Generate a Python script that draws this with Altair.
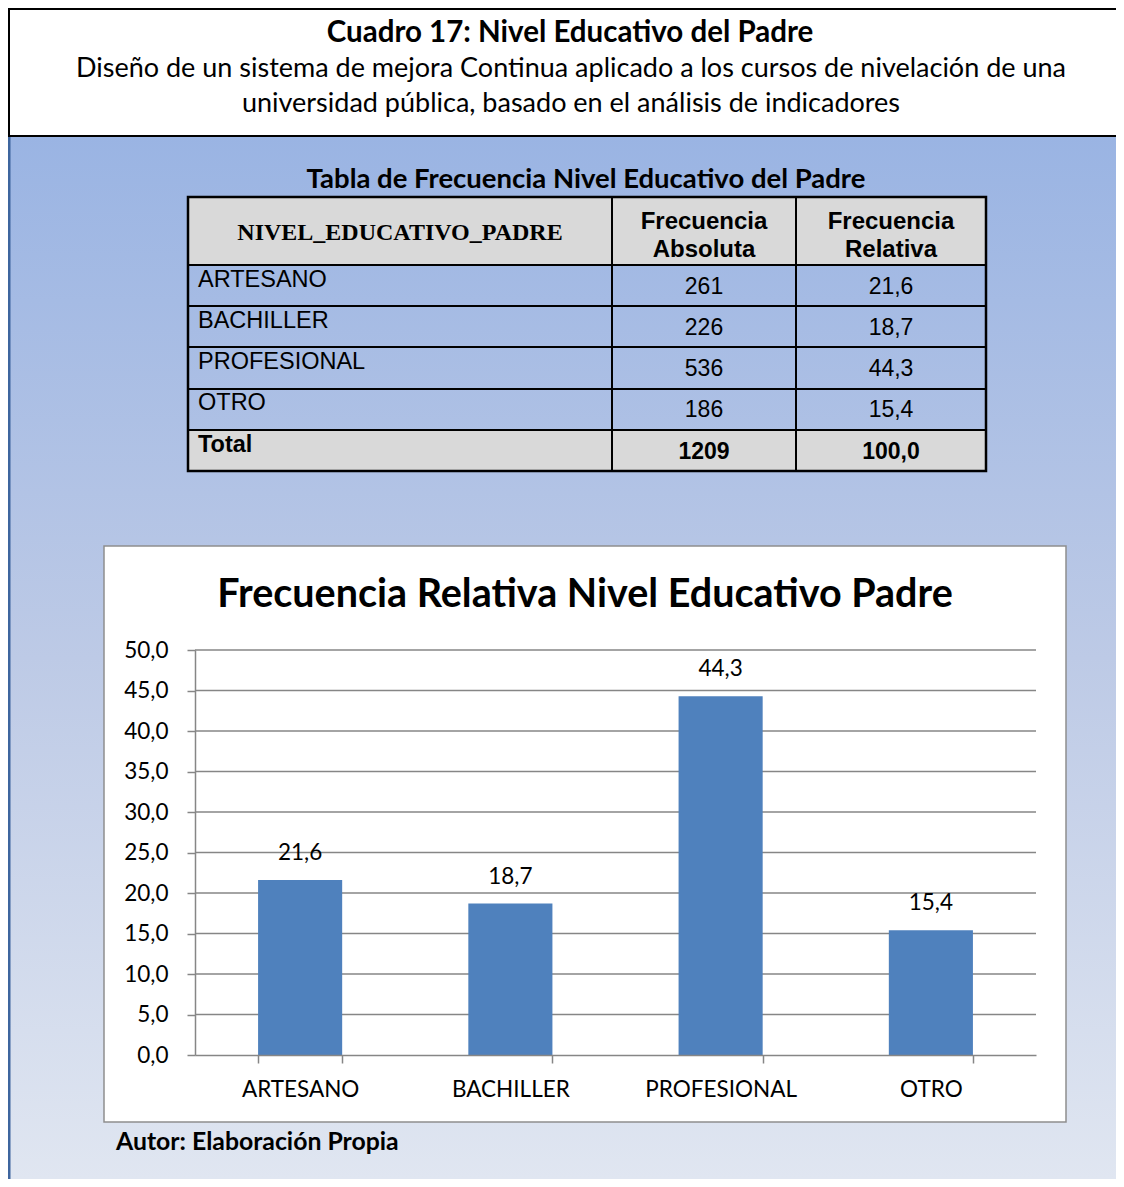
import altair as alt
import pandas as pd

# ---------------- data ----------------
categories = ["ARTESANO", "BACHILLER", "PROFESIONAL", "OTRO"]
freq_abs = [261, 226, 536, 186]
freq_rel = [21.6, 18.7, 44.3, 15.4]
total_label = "Total"
y_ticks = [0, 5, 10, 15, 20, 25, 30, 35, 40, 45, 50]

title_main = "Cuadro 17: Nivel Educativo del Padre"
subtitle_1 = "Diseño de un sistema de mejora Continua aplicado a los cursos de nivelación de una"
subtitle_2 = "universidad pública, basado en el análisis de indicadores"
table_title = "Tabla de Frecuencia Nivel Educativo del Padre"
head_col1 = "NIVEL_EDUCATIVO_PADRE"
head_col2 = "Frecuencia\nAbsoluta"
head_col3 = "Frecuencia\nRelativa"
chart_title = "Frecuencia Relativa Nivel Educativo Padre"
footer_text = "Autor: Elaboración Propia"

W, H = 1108, 1171


def fmt(v):
    return f"{v:.1f}".replace(".", ",")


bars_df = pd.DataFrame({"cat": categories, "rel": freq_rel})
rows = categories + [total_label]
table_df = pd.DataFrame({
    "label": rows,
    "abs": [str(v) for v in freq_abs] + [str(sum(freq_abs))],
    "rel": [fmt(v) for v in freq_rel] + [fmt(sum(freq_rel))],
    "total": [False] * len(categories) + [True],
})
grid_df = pd.DataFrame({"t": y_ticks[1:]})
one = pd.DataFrame({"k": [0]})

CAL = "Lato"
ARIAL = "Liberation Sans"
TIMES = "Liberation Serif"


def box(x, x2, y, y2, **kw):
    return alt.Chart(one).mark_rect(**kw).encode(
        x=alt.value(x), x2=alt.value(x2), y=alt.value(y), y2=alt.value(y2))


def txt(text, x, y, **kw):
    kw.setdefault("baseline", "middle")
    kw.setdefault("color", "black")
    return alt.Chart(one).mark_text(**kw).encode(
        x=alt.value(x), y=alt.value(y), text=alt.value(text))


def hline(y, x, x2, color="black", w=2):
    return alt.Chart(one).mark_rule(color=color, strokeWidth=w).encode(
        x=alt.value(x), x2=alt.value(x2), y=alt.value(y))


def vline(x, y, y2, color="black", w=2):
    return alt.Chart(one).mark_rule(color=color, strokeWidth=w).encode(
        x=alt.value(x), y=alt.value(y), y2=alt.value(y2))


gradient = alt.LinearGradient(
    gradient="linear", x1=0, y1=0, x2=0, y2=1,
    stops=[alt.GradientStop(color="#9AB4E3", offset=0),
           alt.GradientStop(color="#BDCAE6", offset=0.5),
           alt.GradientStop(color="#E0E6F1", offset=1)])

layers = []
# background
layers.append(box(0, W, 128, H, fill=gradient))
layers.append(box(0, 2.5, 128, H, fill="#3E659E"))
# header box
layers.append(box(1, W + 10, 1, 128, fill="white", stroke="black", strokeWidth=2))
layers.append(txt(title_main, 562, 25, font=CAL, fontSize=29.5, fontWeight="bold"))
layers.append(txt(subtitle_1, 563, 61, font=CAL, fontSize=27))
layers.append(txt(subtitle_2, 563, 96, font=CAL, fontSize=27))

# table
layers.append(txt(table_title, 578, 172, font=CAL, fontSize=27.5, fontWeight="bold"))
layers.append(box(180, 978, 189, 257, fill="#D9D9D9"))
layers.append(box(180, 978, 422, 463, fill="#D9D9D9"))
for yy in [257, 298, 339, 381, 422]:
    layers.append(hline(yy, 180, 978))
for xx in [604, 788]:
    layers.append(vline(xx, 189, 463))
layers.append(box(180, 978, 189, 463, fill=None, stroke="black", strokeWidth=2.5))
layers.append(txt(head_col1, 392, 225, font=TIMES, fontSize=24, fontWeight="bold"))
layers.append(txt(head_col2, 696, 214, font=ARIAL, fontSize=24, fontWeight="bold",
                  lineBreak="\n", lineHeight=28))
layers.append(txt(head_col3, 883, 214, font=ARIAL, fontSize=24, fontWeight="bold",
                  lineBreak="\n", lineHeight=28))

row_scale = alt.Scale(type="point", domain=rows, range=[277.5, 442.5], padding=0)
for is_total in [False, True]:
    filt = "datum.total" if is_total else "!datum.total"
    weight = "bold" if is_total else "normal"
    base = alt.Chart(table_df).transform_filter(filt)
    layers.append(base.mark_text(align="left", baseline="middle", font=ARIAL, fontSize=23.5,
                                 fontWeight=weight, dy=-6, color="black").encode(
        x=alt.value(190), y=alt.Y("label:N", scale=row_scale, axis=None), text="label:N"))
    layers.append(base.mark_text(align="center", baseline="middle", font=ARIAL, fontSize=23,
                                 fontWeight=weight, dy=1, color="black").encode(
        x=alt.value(696), y=alt.Y("label:N", scale=row_scale, axis=None), text="abs:N"))
    layers.append(base.mark_text(align="center", baseline="middle", font=ARIAL, fontSize=23,
                                 fontWeight=weight, dy=1, color="black").encode(
        x=alt.value(883), y=alt.Y("label:N", scale=row_scale, axis=None), text="rel:N"))

# chart box
layers.append(box(96, 1058, 538, 1114, fill="white", stroke="#8E8E8E", strokeWidth=1.5))
layers.append(txt(chart_title, 577, 587, font=CAL, fontSize=39.5, fontWeight="bold"))

x_scale = alt.Scale(domain=categories, range=[187, 1028], paddingInner=0.6, paddingOuter=0.3)
y_scale = alt.Scale(domain=[0, 50], range=[1047, 642], nice=False, zero=True)

layers.append(alt.Chart(grid_df).mark_rule(color="#868686", strokeWidth=1.5).encode(
    y=alt.Y("t:Q", scale=y_scale, axis=None), x=alt.value(187), x2=alt.value(1028)))

y_axis = alt.Axis(orient="left", offset=-187, values=y_ticks, title=None, grid=False,
                  labelExpr="replace(format(datum.value, '.1f'), '.', ',')",
                  domainColor="#868686", domainWidth=1.5, tickColor="#868686",
                  tickWidth=1.5, tickSize=8, labelFont=CAL, labelFontSize=22.5,
                  labelColor="black", labelPadding=19, labelOverlap=False, zindex=1)
x_axis = alt.Axis(orient="bottom", offset=-124, title=None, grid=False, tickBand="extent",
                  labelAngle=0, domainColor="#868686", domainWidth=1.5,
                  tickColor="#868686", tickWidth=1.5, tickSize=8, labelFont=CAL,
                  labelFontSize=22.5, labelColor="black", labelPadding=15, zindex=1)

layers.append(alt.Chart(bars_df).mark_bar(color="#4F81BD").encode(
    x=alt.X("cat:N", sort=categories, scale=x_scale, axis=x_axis),
    y=alt.Y("rel:Q", scale=y_scale, axis=y_axis)))

layers.append(alt.Chart(bars_df).transform_calculate(
    lbl="replace(format(datum.rel, '.1f'), '.', ',')"
).mark_text(font=CAL, fontSize=22.5, color="black", baseline="middle", dy=-27).encode(
    x=alt.X("cat:N", sort=categories, scale=x_scale, axis=None),
    y=alt.Y("rel:Q", scale=y_scale, axis=None),
    text="lbl:N"))

layers.append(txt(footer_text, 108, 1135, font=CAL, fontSize=24.8, fontWeight="bold",
                  align="left"))

chart = alt.layer(*layers).resolve_scale(
    x="independent", y="independent"
).resolve_axis(
    x="independent", y="independent"
).properties(
    width=W, height=H, padding=0, background="white",
    autosize=alt.AutoSizeParams(type="none"),
).configure_view(stroke=None)

chart.save("out.html", embed_options={"renderer": "svg", "actions": False})
